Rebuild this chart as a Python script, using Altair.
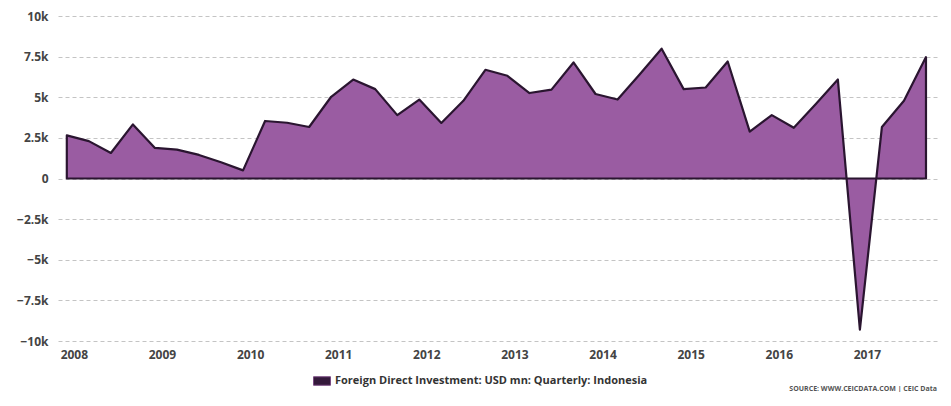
import json
import altair as alt
import pandas as pd

# ---- data (USD mn, quarterly) ----
YEARS = ["2008", "2009", "2010", "2011", "2012", "2013", "2014", "2015", "2016", "2017"]
QUARTERS = [f"{y} Q{q}" for y in YEARS for q in (1, 2, 3, 4)]
FDI = [
    2650, 2300, 1570, 3330,
    1880, 1780, 1450, 1000,
    500, 3540, 3430, 3170,
    5030, 6090, 5500, 3900,
    4860, 3420, 4780, 6690,
    6320, 5260, 5470, 7140,
    5200, 4860, 6400, 7990,
    5500, 5600, 7200, 2880,
    3900, 3120, 4580, 6090,
    -9300, 3170, 4780, 7470,
]
Y_TICKS = [-10000, -7500, -5000, -2500, 0, 2500, 5000, 7500, 10000]
SERIES = "Foreign Direct Investment: USD mn: Quarterly: Indonesia"
SOURCE = "SOURCE: WWW.CEICDATA.COM | CEIC Data"

df = pd.DataFrame({
    "i": list(range(len(FDI))),
    "quarter": QUARTERS,
    "value": FDI,
    "series": [SERIES] * len(FDI),
})

FONT = "Open Sans"
# year labels sit slightly right of each year's first quarter
year_ticks = [4 * k + 0.32 for k in range(len(YEARS))]
year_expr = json.dumps(YEARS) + "[floor(datum.value / 4)]"

x = alt.X(
    "i:Q",
    scale=alt.Scale(domain=[-0.4, 39.5], nice=False, zero=False),
    axis=alt.Axis(
        values=year_ticks, labelExpr=year_expr, title=None, grid=False,
        domain=False, ticks=False, labelPadding=8,
        labelFontSize=12, labelFontWeight="bold", labelColor="#444",
        labelFont=FONT,
    ),
)
y = alt.Y(
    "value:Q",
    scale=alt.Scale(domain=[-10000, 10000], nice=False),
    axis=alt.Axis(
        values=Y_TICKS,
        labelExpr="datum.value == 0 ? '0' : format(datum.value / 1000, '~g') + 'k'",
        title=None, domain=False, ticks=False, labelPadding=10,
        grid=True, gridDash=[4, 3], gridColor="#c4c4c4", gridWidth=1,
        labelFontSize=12, labelFontWeight="bold", labelColor="#444",
        labelFont=FONT,
    ),
)

area = alt.Chart(df).mark_area(
    fill="#9a5ca2", fillOpacity=1, stroke="#2a1530", strokeWidth=2.2,
    strokeJoin="round",
).encode(
    x=x,
    y=y,
    tooltip=["quarter:N", "value:Q"],
)

# invisible points that only carry the legend entry
legend_pts = alt.Chart(df).mark_point(filled=True, opacity=0).encode(
    x="i:Q",
    y="value:Q",
    color=alt.Color(
        "series:N",
        scale=alt.Scale(range=["#34193b"]),
        legend=alt.Legend(
            title=None, orient="none", legendX=255, legendY=356,
            symbolType="M-1,-0.5L1,-0.5L1,0.5L-1,0.5Z", symbolSize=289,
            symbolOpacity=1, symbolStrokeColor="#7a4a82", symbolStrokeWidth=1,
            labelFontSize=11, labelFontWeight="bold", labelColor="#333",
            labelFont=FONT, labelLimit=600,
        ),
    ),
)

src = alt.Chart(pd.DataFrame({"t": [SOURCE]})).mark_text(
    align="right", baseline="middle", fontSize=7, fontWeight="bold",
    color="#555", font=FONT,
).encode(
    text="t:N",
    x=alt.value(879),
    y=alt.value(373),
)

chart = alt.layer(area, legend_pts, src).properties(
    width=879,
    height=325,
    autosize=alt.AutoSizeParams(type="none"),
    padding={"left": 50, "top": 8, "right": 6, "bottom": 51},
    background="white",
).configure_view(stroke=None)

chart.save("out.html", embed_options={"renderer": "svg", "actions": False})
